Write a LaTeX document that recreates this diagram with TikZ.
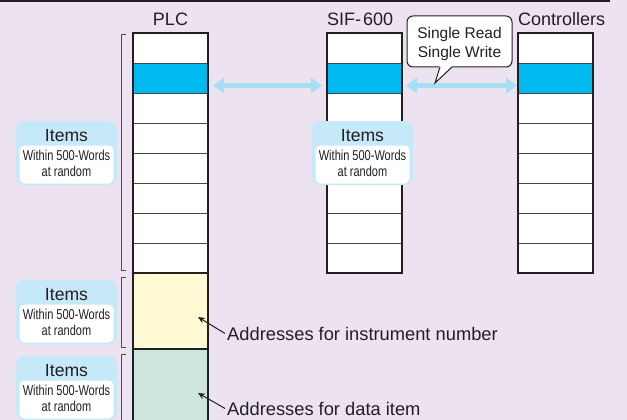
\documentclass[tikz,border=0pt]{standalone}
\usepackage{fontspec}
\setmainfont{Liberation Sans}
\usetikzlibrary{arrows.meta}
\definecolor{bgc}{RGB}{237,227,240}
\definecolor{cellblue}{RGB}{0,186,239}
\definecolor{yellowc}{RGB}{255,249,212}
\definecolor{greenc}{RGB}{204,230,220}
\definecolor{itemblue}{RGB}{198,233,249}
\definecolor{arrowblue}{RGB}{166,222,246}
\definecolor{borderc}{RGB}{35,31,32}
\definecolor{rowline}{RGB}{70,70,70}
\tikzset{
  cell/.style={rectangle, draw=rowline, line width=0.8pt, minimum width=75pt, minimum height=30pt, inner sep=0pt, outer sep=0pt},
  frame/.style={draw=borderc, line width=2pt},
  bigcell/.style={rectangle, draw=borderc, line width=2pt, minimum width=75pt, minimum height=76pt, inner sep=0pt, outer sep=0pt},
  bluearrow/.style={draw=arrowblue, line width=4.5pt, {Triangle[width=15pt,length=11pt]}-{Triangle[width=15pt,length=11pt]}},
  pointer/.style={draw=borderc, line width=1pt, -{Stealth[width=6pt,length=7pt]}},
  bracket/.style={draw=borderc!80, line width=0.9pt},
  head/.style={inner sep=0pt, anchor=base, font=\fontsize{18}{21}\selectfont, text=borderc},
  itemouter/.style={rectangle, rounded corners=8pt, fill=itemblue, minimum width=101pt, minimum height=64pt, inner sep=0pt},
  iteminner/.style={rectangle, rounded corners=5pt, fill=white, minimum width=94pt, minimum height=38pt, inner sep=0pt},
  itemtitle/.style={inner sep=0pt, anchor=base, font=\fontsize{17.6}{20}\selectfont, text=borderc},
  itemsmall/.style={inner sep=0pt, anchor=center, align=center, font=\fontsize{14.3}{16}\selectfont, text=borderc},
  calloutbox/.style={rectangle, rounded corners=6pt, draw=borderc, line width=1pt, fill=white, minimum width=105pt, minimum height=51pt, inner sep=0pt},
  callouttext/.style={inner sep=0pt, anchor=center, align=center, font=\fontsize{15.5}{19}\selectfont, text=borderc},
  addr/.style={inner sep=0pt, anchor=base west, font=\fontsize{18.3}{21}\selectfont, text=borderc}
}
\newcommand\itembox[3]{%
  \node[itemouter] (#1) at (#2,#3+32) {};
  \node[iteminner] (#1in) at (#2,#3+43.5) {};
  \node[itemtitle] (#1t) at (#2,#3+20.7) {Items};
  \node[itemsmall] (#1a) at (#2,#3+42.3) {\scalebox{0.77}[1]{Within 500-Words}\\\scalebox{0.77}[1]{at random}};
}
\begin{document}
\begin{tikzpicture}[x=1pt,y=-1pt]
\useasboundingbox (0,0) rectangle (627,420);
\fill[bgc] (0,0) rectangle (627,420);
\coordinate (topl) at (0,1);
\coordinate (topr) at (610,1);
\draw[line width=1.5pt, borderc] (topl) -- (topr);

% column headings
\node[head] (hplc) at (170.5,26) {PLC};
\node[head, anchor=base west] (hsif) at (327,26) {SIF-\kern2pt600};
\node[head, anchor=base west] (hctrl) at (518,26) {Controllers};

% columns
\foreach \i/\c in {0/white,1/cellblue,2/white,3/white,4/white,5/white,6/white,7/white}{
  \node[cell, fill=\c] (plc\i) at (170.5,48+30*\i) {};
  \node[cell, fill=\c] (sif\i) at (364,48+30*\i) {};
  \node[cell, fill=\c] (ctrl\i) at (555.5,48+30*\i) {};
}
\draw[frame] (plc0.north west) rectangle (plc7.south east);
\draw[frame] (sif0.north west) rectangle (sif7.south east);
\draw[frame] (ctrl0.north west) rectangle (ctrl7.south east);

\node[bigcell, fill=yellowc] (instr) at (170.5,311) {};
\node[bigcell, fill=greenc] (data) at (170.5,387) {};

% brackets
\draw[bracket] (126,34) -- (121,34) -- (121,270) -- (126,270);
\draw[bracket] (126,277) -- (121,277) -- (121,347) -- (126,347);
\draw[bracket] (126,354) -- (121,354) -- (121,425);

% items boxes
\itembox{itA}{66.5}{121}
\itembox{itB}{66.5}{280}
\itembox{itC}{66.5}{356}
\itembox{itS}{362.5}{121}

% blue arrows
\draw[bluearrow] ([shift={(5,7.5)}]plc1.east) -- ([shift={(-4.5,7.5)}]sif1.west);
\draw[bluearrow] ([shift={(4.5,7.5)}]sif1.east) -- ([shift={(-1,7.5)}]ctrl1.west);

% callout
\node[calloutbox] (callout) at (459.5,41.5) {};
\coordinate (ctip) at (435,83);
\fill[white] (439.5,66) -- (ctip) -- (452.5,66) -- cycle;
\draw[draw=borderc, line width=1pt, line join=miter] (440,67) -- (ctip) -- (452,67);
\node[callouttext] (cl) at (459.5,43.5) {Single Read\\Single Write};

% address labels
\node[addr] (linstr) at (227,340) {Addresses for instrument number};
\node[addr] (ldata) at (227,415) {Addresses for data item};
\draw[pointer] ([xshift=-2pt]linstr.west) -- ([shift={(-10,6)}]instr.east);
\draw[pointer] ([xshift=-2pt]ldata.west) -- ([shift={(-10,6)}]data.east);
\end{tikzpicture}
\end{document}
